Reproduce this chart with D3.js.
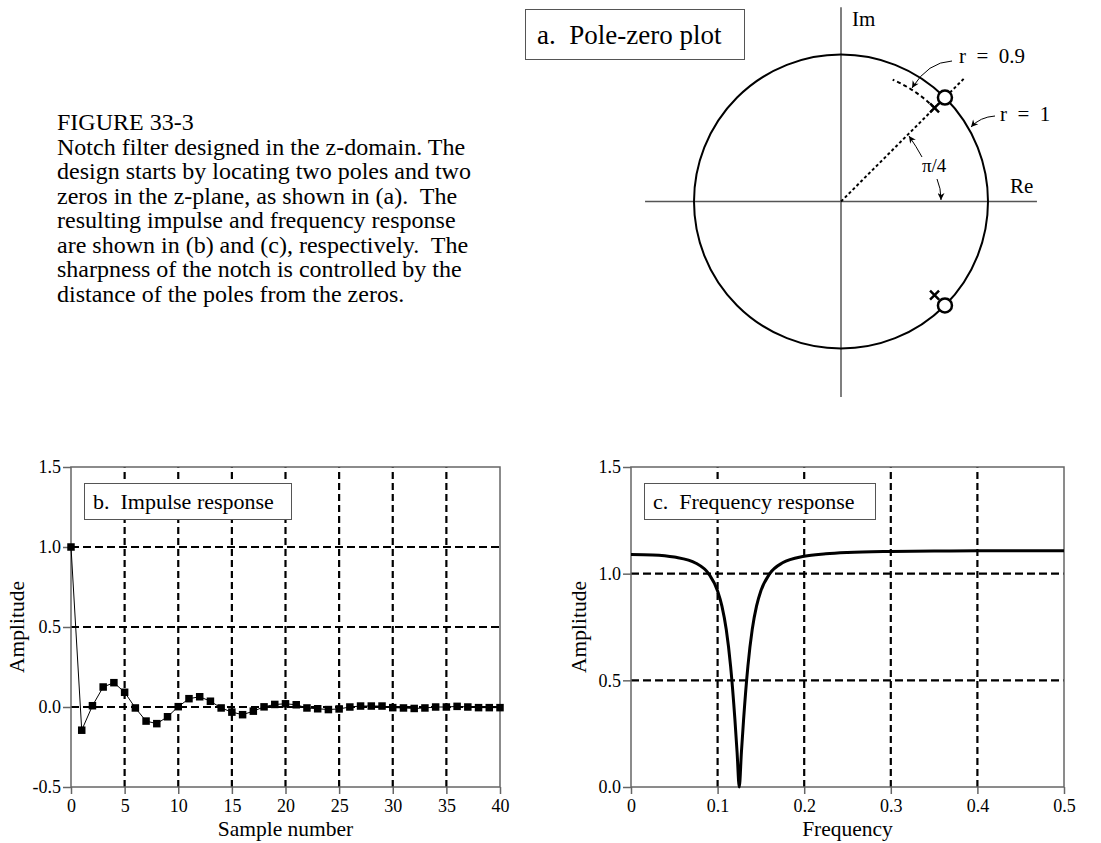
<!DOCTYPE html>
<html>
<head>
<meta charset="utf-8">
<script src="https://cdn.jsdelivr.net/npm/d3@7"></script>
<style>
  body { margin: 0; background: #fff; }
  text { font-family: "Liberation Serif", "Times New Roman", serif; fill: #000; white-space: pre; }
</style>
</head>
<body>
<div id="chart"></div>
<script>
// ---- datos ----
const captionLines = [
  "FIGURE 33-3",
  "Notch filter designed in the z-domain. The",
  "design starts by locating two poles and two",
  "zeros in the z-plane, as shown in (a).  The",
  "resulting impulse and frequency response",
  "are shown in (b) and (c), respectively.  The",
  "sharpness of the notch is controlled by the",
  "distance of the poles from the zeros."
];

// polos y ceros (radio, angulo en radianes)
const zeros = [{ r: 1, a: Math.PI / 4 }, { r: 1, a: -Math.PI / 4 }];
const poles = [{ r: 0.9, a: Math.PI / 4 }, { r: 0.9, a: -Math.PI / 4 }];

// respuesta al impulso, muestras 0..40
const impulseValues = [
  1.0, -0.145, 0.008, 0.125, 0.152, 0.092, -0.006, -0.088, -0.104, -0.061,
  0.002, 0.052, 0.064, 0.036, -0.006, -0.032, -0.048, -0.026, 0.001, 0.016,
  0.020, 0.014, -0.006, -0.011, -0.016, -0.012, 0.0, 0.006, 0.006, 0.006,
  -0.004, -0.006, -0.009, -0.006, 0.0, 0.0, 0.004, 0.0, -0.004, -0.004, -0.004
];

// respuesta en frecuencia
const freqX = [0, 0.025, 0.05, 0.075, 0.09, 0.1, 0.105, 0.11, 0.115, 0.12, 0.1225, 0.125,
  0.1275, 0.13, 0.135, 0.14, 0.145, 0.15, 0.16, 0.175, 0.2, 0.225, 0.25, 0.3, 0.35, 0.4, 0.45, 0.5];
const freqY = [1.090, 1.088, 1.078, 1.049, 0.998, 0.919, 0.848, 0.738, 0.567, 0.316, 0.163, 0.0,
  0.163, 0.316, 0.567, 0.739, 0.849, 0.920, 0.999, 1.051, 1.082, 1.093, 1.099, 1.104, 1.106, 1.107, 1.107, 1.108];

const ampTicks = [-0.5, 0.0, 0.5, 1.0, 1.5];
const ampTicksC = [0.0, 0.5, 1.0, 1.5];
const sampleTicks = [0, 5, 10, 15, 20, 25, 30, 35, 40];
const freqTicks = [0, 0.1, 0.2, 0.3, 0.4, 0.5];

const W = 1101, H = 843;

const svg = d3.select("#chart").append("svg")
  .attr("width", W)
  .attr("height", H)
  .attr("viewBox", `0 0 ${W} ${H}`);

svg.append("defs").append("marker")
  .attr("id", "flecha")
  .attr("viewBox", "0 0 10 10")
  .attr("refX", 10).attr("refY", 5)
  .attr("markerWidth", 9).attr("markerHeight", 7)
  .attr("markerUnits", "userSpaceOnUse")
  .attr("orient", "auto")
  .append("path")
  .attr("d", "M0,0 L10,5 L0,10 L3,5 Z")
  .attr("fill", "#000");

// ---- texto del pie ----
const caption = svg.append("text")
  .attr("x", 57).attr("y", 130)
  .style("font-size", "24px");
caption.selectAll("tspan")
  .data(captionLines)
  .enter().append("tspan")
  .attr("x", 57)
  .attr("dy", (d, i) => i === 0 ? 0 : 24.5)
  .text(d => d);

// ---- a. diagrama de polos y ceros ----
const zx = d3.scaleLinear().domain([-1, 1]).range([694, 988]);
const zy = d3.scaleLinear().domain([-1, 1]).range([348.5, 54.5]);
const gA = svg.append("g");

gA.append("line")
  .attr("x1", zx(-1.333)).attr("x2", zx(1.333))
  .attr("y1", zy(0)).attr("y2", zy(0))
  .attr("stroke", "#555").attr("stroke-width", 1.5);
gA.append("line")
  .attr("x1", zx(0)).attr("x2", zx(0))
  .attr("y1", zy(1.322)).attr("y2", zy(-1.33))
  .attr("stroke", "#555").attr("stroke-width", 1.5);

gA.append("ellipse")
  .attr("cx", zx(0)).attr("cy", zy(0))
  .attr("rx", zx(1) - zx(0)).attr("ry", zy(-1) - zy(0))
  .attr("fill", "none").attr("stroke", "#000").attr("stroke-width", 2);

// radio a pi/4
gA.append("line")
  .attr("x1", zx(0)).attr("y1", zy(0))
  .attr("x2", zx(1.18 * Math.cos(Math.PI / 4)))
  .attr("y2", zy(1.18 * Math.sin(Math.PI / 4)))
  .attr("stroke", "#000").attr("stroke-width", 2)
  .attr("stroke-dasharray", "3,2.5");

// arco r = 0.9
const arcPts = d3.range(45, 68, 1).map(g => {
  const a = g * Math.PI / 180;
  return [zx(0.9 * Math.cos(a)), zy(0.9 * Math.sin(a))];
});
gA.append("path")
  .attr("d", d3.line()(arcPts))
  .attr("fill", "none").attr("stroke", "#000").attr("stroke-width", 2)
  .attr("stroke-dasharray", "4,3");

// polos (x)
poles.forEach(p => {
  const cx = zx(p.r * Math.cos(p.a)), cy = zy(p.r * Math.sin(p.a));
  gA.append("path")
    .attr("d", `M${cx - 4.5},${cy - 4.5}L${cx + 4.5},${cy + 4.5}M${cx - 4.5},${cy + 4.5}L${cx + 4.5},${cy - 4.5}`)
    .attr("stroke", "#000").attr("stroke-width", 2.5);
});

// ceros (o)
gA.selectAll("circle.cero")
  .data(zeros)
  .enter().append("circle")
  .attr("class", "cero")
  .attr("cx", d => zx(d.r * Math.cos(d.a)))
  .attr("cy", d => zy(d.r * Math.sin(d.a)))
  .attr("r", 7)
  .attr("fill", "#fff").attr("stroke", "#000").attr("stroke-width", 2.5);

// etiquetas y flechas
gA.append("rect")
  .attr("x", 525.5).attr("y", 9.5).attr("width", 219).attr("height", 50)
  .attr("fill", "#fff").attr("stroke", "#555").attr("stroke-width", 1);
gA.append("text").attr("x", 537).attr("y", 44).style("font-size", "27px").text("a.  Pole-zero plot");
gA.append("text").attr("x", 852).attr("y", 26).style("font-size", "21px").text("Im");
gA.append("text").attr("x", 1010).attr("y", 193).style("font-size", "21px").text("Re");
gA.append("text").attr("x", 959).attr("y", 63).style("font-size", "21px").text("r  =  0.9");
gA.append("text").attr("x", 1000).attr("y", 121).style("font-size", "21px").text("r  =  1");
gA.append("text").attr("x", 922).attr("y", 172).style("font-size", "19px").text("\u03c0/4");

const flechas = [
  "M952,61 Q928,62 912,88",
  "M995,116 Q980,117 971,127",
  "M922,157 Q916,146 909,136",
  "M937,179 Q941,188 941,200"
];
gA.selectAll("path.flecha")
  .data(flechas)
  .enter().append("path")
  .attr("class", "flecha")
  .attr("d", d => d)
  .attr("fill", "none").attr("stroke", "#000").attr("stroke-width", 1)
  .attr("marker-end", "url(#flecha)");

// ---- utilidades para los paneles ----
function panel({ x, y, xTicks, yTicks, xGrid, yGrid, xFmt, xTitle, yTitle, label, boxW, titleX }) {
  const g = svg.append("g");
  const [x0, x1] = x.range();
  const [y0, y1] = y.range();

  g.selectAll("line.gv").data(xGrid).enter().append("line")
    .attr("x1", d => x(d)).attr("x2", d => x(d))
    .attr("y1", y0).attr("y2", y1)
    .attr("stroke", "#000").attr("stroke-width", 2.2).attr("stroke-dasharray", "7,4");
  g.selectAll("line.gh").data(yGrid).enter().append("line")
    .attr("x1", x0).attr("x2", x1)
    .attr("y1", d => y(d)).attr("y2", d => y(d))
    .attr("stroke", "#000").attr("stroke-width", 2.2).attr("stroke-dasharray", "8,4");

  g.append("rect")
    .attr("x", x0).attr("y", y1).attr("width", x1 - x0).attr("height", y0 - y1)
    .attr("fill", "none").attr("stroke", "#666").attr("stroke-width", 1.5);

  const ax = g.append("g").attr("transform", `translate(0,${y0})`)
    .call(d3.axisBottom(x).tickValues(xTicks).tickFormat(xFmt).tickSize(7).tickPadding(5));
  const ay = g.append("g").attr("transform", `translate(${x0},0)`)
    .call(d3.axisLeft(y).tickValues(yTicks).tickFormat(d => d.toFixed(1)).tickSize(8).tickPadding(2));
  [ax, ay].forEach(a => {
    a.select(".domain").remove();
    a.selectAll(".tick line").attr("stroke", "#666").attr("stroke-width", 1.5);
    a.selectAll(".tick text")
      .style("font-family", "'Liberation Serif', serif")
      .style("font-size", "18px").attr("fill", "#000");
  });

  g.append("text")
    .attr("x", (x0 + x1) / 2).attr("y", 836)
    .attr("text-anchor", "middle").style("font-size", "21.5px").text(xTitle);
  g.append("text")
    .attr("transform", `translate(${titleX},${(y0 + y1) / 2}) rotate(-90)`)
    .attr("text-anchor", "middle").style("font-size", "21.5px").text(yTitle);

  g.append("rect")
    .attr("x", x0 + 13.5).attr("y", y1 + 16.5).attr("width", boxW).attr("height", 36)
    .attr("fill", "#fff").attr("stroke", "#555").attr("stroke-width", 1);
  g.append("text")
    .attr("x", x0 + 22).attr("y", y1 + 42)
    .style("font-size", "22px").text(label);
  return g;
}

// ---- b. respuesta al impulso ----
const xB = d3.scaleLinear().domain([0, 40]).range([71, 500]);
const yB = d3.scaleLinear().domain([-0.5, 1.5]).range([787, 467]);
const gB = panel({
  x: xB, y: yB, xTicks: sampleTicks, yTicks: ampTicks,
  xGrid: [5, 10, 15, 20, 25, 30, 35], yGrid: [0, 0.5, 1.0],
  xFmt: d => d, xTitle: "Sample number", yTitle: "Amplitude",
  label: "b.  Impulse response", boxW: 207, titleX: 24
});
gB.append("path")
  .datum(impulseValues)
  .attr("d", d3.line().x((d, i) => xB(i)).y(d => yB(d)))
  .attr("fill", "none").attr("stroke", "#000").attr("stroke-width", 1);
gB.selectAll("rect.m").data(impulseValues).enter().append("rect")
  .attr("class", "m")
  .attr("x", (d, i) => xB(i) - 3.75).attr("y", d => yB(d) - 3.75)
  .attr("width", 7.5).attr("height", 7.5).attr("fill", "#000");

// ---- c. respuesta en frecuencia ----
const xC = d3.scaleLinear().domain([0, 0.5]).range([631, 1064]);
const yC = d3.scaleLinear().domain([0, 1.5]).range([787, 467]);
const gC = panel({
  x: xC, y: yC, xTicks: freqTicks, yTicks: ampTicksC,
  xGrid: [0.1, 0.2, 0.3, 0.4], yGrid: [0.5, 1.0],
  xFmt: d => d === 0 ? "0" : d.toFixed(1), xTitle: "Frequency", yTitle: "Amplitude",
  label: "c.  Frequency response", boxW: 231, titleX: 586
});
gC.append("path")
  .datum(freqX.map((f, i) => [f, freqY[i]]))
  .attr("d", d3.line().x(d => xC(d[0])).y(d => yC(d[1])).curve(d3.curveMonotoneX))
  .attr("fill", "none").attr("stroke", "#000").attr("stroke-width", 3);
</script>
</body>
</html>
